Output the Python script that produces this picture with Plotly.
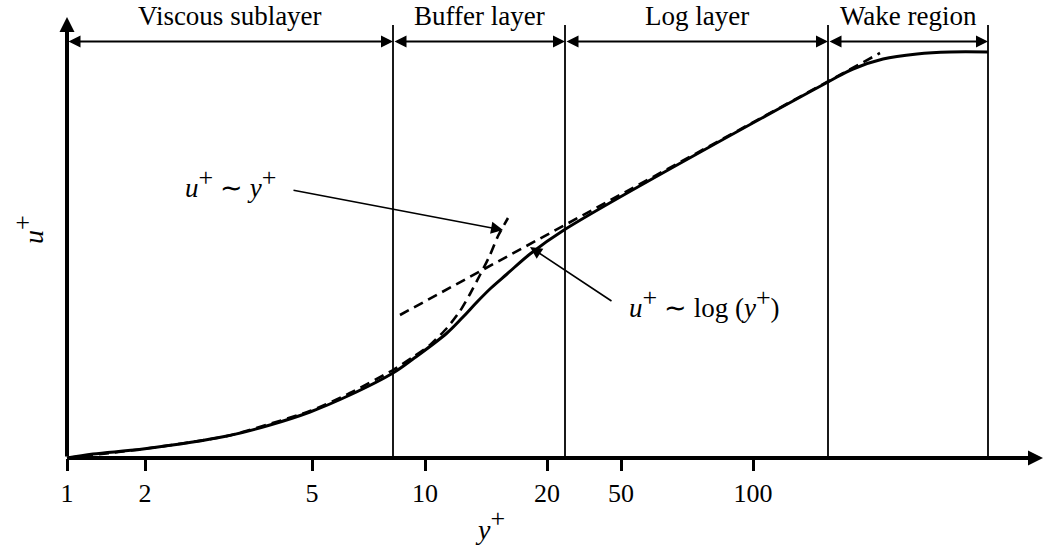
import plotly.graph_objects as go

# ---- data (schematic axis units) ----
tick_pos = [0, 78, 245, 358, 480, 554, 686]
tick_text = ["1", "2", "5", "10", "20", "50", "100"]

profile_x = [0, 26, 76, 160, 203, 243, 283, 326, 346, 380, 396, 410, 424, 440, 463, 497, 761, 786, 816, 850, 883, 921]
profile_y = [0, 4, 9, 22, 33, 46, 63, 85, 99, 125, 141, 156, 170, 184, 204, 228, 376, 389, 399, 404, 406, 406]

viscous_x = [0, 76, 160, 243, 283, 326, 346, 363, 380, 393, 403, 413, 423, 431, 441]
viscous_y = [0, 9, 22, 47, 65, 88, 101, 113, 130, 147, 164, 183, 203, 222, 240]

log_x = [333, 813]
log_y = [143, 405]

region_bounds = [0, 326, 498, 761, 921]
region_names = ["Viscous sublayer", "Buffer layer", "Log layer", "Wake region"]

FONT = "Liberation Serif"
SUP = "<sup><span style=\"font-size:26px\">+</span></sup>"

fig = go.Figure()
fig.add_trace(go.Scatter(x=profile_x, y=profile_y, mode="lines",
                         line=dict(color="black", width=3, shape="spline", smoothing=1.0),
                         hoverinfo="skip"))
fig.add_trace(go.Scatter(x=viscous_x, y=viscous_y, mode="lines",
                         line=dict(color="black", width=2.6, dash="10px,6px", shape="spline", smoothing=0.6),
                         hoverinfo="skip"))
fig.add_trace(go.Scatter(x=log_x, y=log_y, mode="lines",
                         line=dict(color="black", width=2.6, dash="10px,6px"),
                         hoverinfo="skip"))

# region boundaries
for b in region_bounds[1:]:
    fig.add_shape(type="line", x0=b, x1=b, y0=0, y1=433, xref="x", yref="y",
                  line=dict(color="black", width=1.8))

annotations = []
dim_y = 416.5
for i, name in enumerate(region_names):
    b0, b1 = region_bounds[i], region_bounds[i + 1]
    annotations.append(dict(x=b1, y=dim_y, ax=b0, ay=dim_y, xref="x", yref="y", axref="x", ayref="y",
                            text="", showarrow=True, arrowside="end+start", arrowhead=2, startarrowhead=2,
                            arrowwidth=2, arrowsize=1.2, startarrowsize=1.2, arrowcolor="black",
                            standoff=0, startstandoff=0))
    annotations.append(dict(x=(b0 + b1) / 2, y=442, xref="x", yref="y", text=name, showarrow=False,
                            font=dict(family=FONT, size=27, color="black"), xanchor="center", yanchor="middle"))

# axes arrows
annotations.append(dict(x=0, y=441, ax=0, ay=0, xref="x", yref="y", axref="x", ayref="y", text="",
                        showarrow=True, arrowhead=2, arrowwidth=4, arrowsize=0.75, arrowcolor="black", standoff=0))
annotations.append(dict(x=976, y=0, ax=0, ay=0, xref="x", yref="y", axref="x", ayref="y", text="",
                        showarrow=True, arrowhead=2, arrowwidth=4, arrowsize=0.75, arrowcolor="black", standoff=0))

# callouts
annotations.append(dict(x=436, y=228, ax=225, ay=268, xref="x", yref="y", axref="x", ayref="y", text="",
                        showarrow=True, arrowhead=2, arrowwidth=1.6, arrowsize=1.5, arrowcolor="black", standoff=0))
annotations.append(dict(x=163, y=275, xref="x", yref="y", text="<i>u</i>" + SUP + " ∼ <i>y</i>" + SUP,
                        showarrow=False, font=dict(family=FONT, size=27, color="black")))
annotations.append(dict(x=463, y=211, ax=546, ay=156, xref="x", yref="y", axref="x", ayref="y", text="",
                        showarrow=True, arrowhead=2, arrowwidth=1.6, arrowsize=1.5, arrowcolor="black", standoff=0))
annotations.append(dict(x=560, y=155, xref="x", yref="y", xanchor="left",
                        text="<i>u</i>" + SUP + " ∼ log (<i>y</i>" + SUP + ")",
                        showarrow=False, font=dict(family=FONT, size=27, color="black")))

# axis titles
annotations.append(dict(x=-39, y=228, xref="x", yref="y", text="<i>u</i>" + SUP, textangle=-90,
                        showarrow=False, font=dict(family=FONT, size=28, color="black")))
annotations.append(dict(x=423, y=-66, xref="x", yref="y", text="<i>y</i>" + SUP,
                        showarrow=False, font=dict(family=FONT, size=28, color="black")))

fig.update_layout(
    width=1045, height=550,
    margin=dict(l=0, r=0, t=0, b=0),
    paper_bgcolor="white", plot_bgcolor="white",
    showlegend=False,
    annotations=annotations,
    xaxis=dict(range=[-67, 978], anchor="free", position=92 / 550,
               tickmode="array", tickvals=tick_pos, ticktext=tick_text,
               ticks="outside", ticklen=12, tickwidth=2.5, tickcolor="black",
               tickfont=dict(family=FONT, size=26, color="black"),
               showgrid=False, zeroline=False, showline=False, fixedrange=True),
    yaxis=dict(range=[-92, 458], visible=False, fixedrange=True),
)

fig.write_html("out.html")
